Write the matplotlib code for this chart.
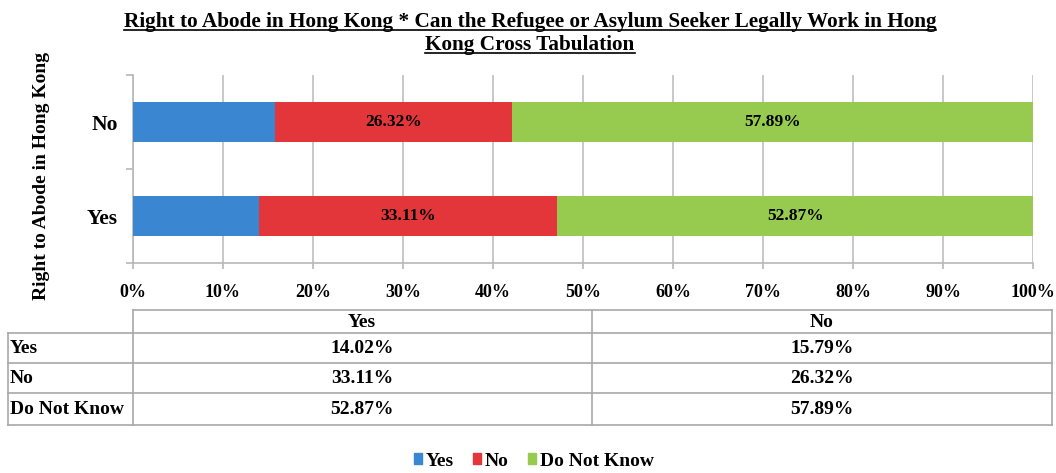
import matplotlib.pyplot as plt
from matplotlib.patches import Patch
import numpy as np

plt.rcParams['font.family'] = ['Liberation Serif', 'DejaVu Serif']
plt.rcParams['font.weight'] = 'bold'

# crosstab values (% of row)
groups = ["Yes", "No"]
answers = ["Yes", "No", "Do Not Know"]
pct_yes = [14.02, 15.79]
pct_no = [33.11, 26.32]
pct_dnk = [52.87, 57.89]
colors = ["#3a86d0", "#e2363a", "#96cb4f"]

title = ("Right to Abode in Hong Kong * Can the Refugee or Asylum Seeker Legally Work in Hong",
         "Kong Cross Tabulation")

W, H = 1056, 473
fig = plt.figure(figsize=(W / 100, H / 100), dpi=100)

def px(x0, y0, x1, y1):
    return [x0 / W, 1 - y1 / H, (x1 - x0) / W, (y1 - y0) / H]

ax = fig.add_axes(px(133, 75, 1033, 263))
y = np.arange(len(groups))
series = [pct_yes, pct_no, pct_dnk]
left = np.zeros(len(groups))
for i, vals in enumerate(series):
    vals = np.array(vals)
    ax.barh(y, vals, left=left, height=0.42, color=colors[i], zorder=3)
    if i > 0:
        for yy, l, v in zip(y, left, vals):
            ax.text(l + v / 2, yy, f"{v:.2f}%", ha='center', va='center',
                    fontsize=12.5, fontweight='bold', zorder=4)
    left += vals

ax.set_xlim(0, 100)
ax.set_ylim(-0.5, 1.5)
ax.set_xticks(np.arange(0, 101, 10))
ax.set_xticklabels([f"{t}%" for t in range(0, 101, 10)], fontsize=13, fontweight='bold')
ax.set_yticks(y)
ax.set_yticklabels(groups, fontsize=15.5, fontweight='bold')
ax.set_yticks([-0.5, 0.5, 1.5], minor=True)
ax.tick_params(axis='y', which='major', length=0, pad=11)
ax.tick_params(axis='y', which='minor', length=5, color='#b8b8b8', width=1.2)
ax.tick_params(axis='x', length=4, color='#b8b8b8', width=1.2, pad=11)
ax.grid(axis='x', color='#c8c8c8', linewidth=1.4, zorder=0)
for s in ['top', 'right']:
    ax.spines[s].set_visible(False)
for s in ['left', 'bottom']:
    ax.spines[s].set_color('#b8b8b8')
    ax.spines[s].set_linewidth(1.2)

fig.text(42 / W, 1 - 176 / H, "Right to Abode in Hong Kong", rotation=90,
         ha='center', va='center', fontsize=14, fontweight='bold')

# title, underlined
fig.canvas.draw()
r = fig.canvas.get_renderer()
for k, line in enumerate(title):
    yc = 1 - (22 + 23 * k) / H
    t = fig.text(0.502, yc, line, ha='center', va='center', fontsize=15.3,
                 fontweight='bold')
    bb = t.get_window_extent(renderer=r)
    fig.add_artist(plt.Line2D([bb.x0 / W, bb.x1 / W], [(bb.y0 + 2) / H] * 2,
                              color='black', linewidth=1.2))

# data table under the chart
tab = fig.add_axes([0, 0, 1, 1])
tab.set_xlim(0, W)
tab.set_ylim(H, 0)
tab.axis('off')
lc = '#a8a8a8'
rows_y = [310, 333, 363, 393, 425]
tab.plot([133, 1052], [310, 310], color=lc, lw=1.2)
for yy in rows_y[1:]:
    tab.plot([8, 1052], [yy, yy], color=lc, lw=1.2)
tab.plot([133, 133], [310, 425], color=lc, lw=1.2)
tab.plot([592, 592], [310, 425], color=lc, lw=1.2)
tab.plot([1052, 1052], [310, 425], color=lc, lw=1.2)
tab.plot([8, 8], [333, 425], color=lc, lw=1.2)
col_x = [362, 822]
for cx, g in zip(col_x, groups):
    tab.text(cx, 322, g, ha='center', va='center', fontsize=14, fontweight='bold')
for j, a in enumerate(answers):
    yc = (rows_y[j + 1] + rows_y[j + 2]) / 2
    tab.text(10, yc, a, ha='left', va='center', fontsize=14, fontweight='bold')
    for gi, cx in enumerate(col_x):
        tab.text(cx, yc, f"{series[j][gi]:.2f}%", ha='center', va='center',
                 fontsize=14, fontweight='bold')

handles = [Patch(color=c) for c in colors]
fig.legend(handles, answers, loc='center', bbox_to_anchor=(534 / W, 1 - 461 / H),
           ncol=3, frameon=False, fontsize=14, handlelength=0.4, handleheight=0.55,
           handletextpad=0.2, columnspacing=1.0)

fig.savefig("out.png", dpi=100)
